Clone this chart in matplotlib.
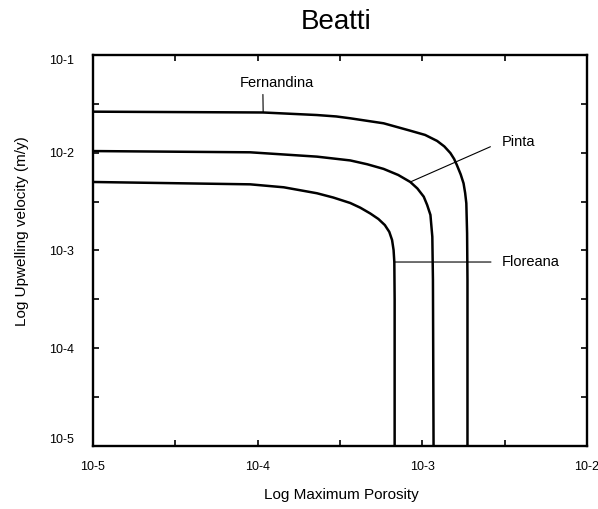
import matplotlib
matplotlib.use('Agg')
import matplotlib.pyplot as plt

plt.rcParams['font.family'] = 'Liberation Sans'

# porosity / upwelling velocity curves for each island
fern_x = [1.0e-5, 1.08e-4, 2.29e-4, 3.00e-4, 3.65e-4, 5.82e-4, 8.45e-4, 1.04e-3,
          1.23e-3, 1.36e-3, 1.48e-3, 1.56e-3, 1.62e-3, 1.71e-3, 1.78e-3, 1.82e-3,
          1.85e-3, 1.87e-3, 1.88e-3, 1.88e-3]
fern_y = [2.63e-2, 2.58e-2, 2.43e-2, 2.35e-2, 2.25e-2, 2.00e-2, 1.68e-2, 1.52e-2,
          1.32e-2, 1.16e-2, 9.93e-3, 8.63e-3, 7.50e-3, 6.00e-3, 4.86e-3, 3.87e-3,
          3.04e-3, 1.50e-3, 4.99e-4, 1.0e-5]

pinta_x = [1.0e-5, 9.0e-5, 2.29e-4, 3.65e-4, 4.63e-4, 5.82e-4, 7.14e-4, 8.45e-4,
           9.33e-4, 1.02e-3, 1.07e-3, 1.12e-3, 1.15e-3, 1.16e-3, 1.17e-3]
pinta_y = [1.04e-2, 1.01e-2, 9.12e-3, 8.34e-3, 7.62e-3, 6.83e-3, 5.92e-3, 5.02e-3,
           4.31e-3, 3.55e-3, 2.92e-3, 2.31e-3, 1.38e-3, 4.99e-4, 1.0e-5]

flor_x = [1.0e-5, 9.0e-5, 1.44e-4, 2.29e-4, 2.88e-4, 3.65e-4, 4.20e-4, 4.83e-4,
          5.41e-4, 5.92e-4, 6.30e-4, 6.55e-4, 6.69e-4, 6.76e-4, 6.79e-4, 6.79e-4]
flor_y = [5.02e-3, 4.75e-3, 4.43e-3, 3.85e-3, 3.48e-3, 3.06e-3, 2.74e-3, 2.39e-3,
          2.10e-3, 1.82e-3, 1.55e-3, 1.28e-3, 1.01e-3, 7.62e-4, 3.12e-4, 1.0e-5]

x_ticks = [1e-5, 1e-4, 1e-3, 1e-2]
x_labels = ['10-5', '10-4', '10-3', '10-2']
x_minor = [10 ** -4.5, 10 ** -3.5, 10 ** -2.5]
y_ticks = [1e-5, 1e-4, 1e-3, 1e-2, 1e-1]
y_labels = ['10-5', '10-4', '10-3', '10-2', '10-1']
y_minor = [10 ** -4.5, 10 ** -3.5, 10 ** -2.5, 10 ** -1.5]

fig = plt.figure(figsize=(5.98, 5.09), dpi=100)
ax = fig.add_axes([0.1555, 0.1238, 0.8261, 0.7682])

for xs, ys in [(fern_x, fern_y), (pinta_x, pinta_y), (flor_x, flor_y)]:
    ax.plot(xs, ys, color='black', lw=1.8, solid_joinstyle='round')

ax.set_xscale('log')
ax.set_yscale('log')
ax.set_xlim(1e-5, 1e-2)
ax.set_ylim(1e-5, 1e-1)

ax.set_xticks(x_ticks, x_labels)
ax.set_xticks(x_minor, minor=True)
ax.set_yticks(y_ticks, y_labels)
ax.set_yticks(y_minor, minor=True)
ax.xaxis.set_minor_formatter(plt.NullFormatter())
ax.yaxis.set_minor_formatter(plt.NullFormatter())
ax.tick_params(which='both', direction='in', top=True, right=True,
               length=4, width=1.2, labelsize=9)
ax.tick_params(axis='x', pad=10.5)
ax.tick_params(axis='y', pad=13.5)
ylabs = ax.get_yticklabels()
ylabs[0].set_va('bottom')
ylabs[-1].set_va('top')

for sp in ax.spines.values():
    sp.set_linewidth(1.7)

ax.set_xlabel('Log Maximum Porosity', fontsize=11, va='center')
ax.xaxis.set_label_coords(0.502, -0.125)
ax.set_ylabel('Log Upwelling velocity (m/y)', fontsize=11, va='center')
ax.yaxis.set_label_coords(-0.144, 0.55)

fig.text(336 / 598, 1 - 22 / 509, 'Beatti', ha='center', va='center', fontsize=20)

# island labels with leader lines
lead = dict(arrowstyle='-', color='black', lw=0.8)
ax.annotate('Fernandina', xy=(fern_x[1], fern_y[1]), xytext=(1.31e-4, 5.13e-2),
            ha='center', va='center', fontsize=10.5,
            arrowprops=dict(lead, relpos=(0.31, 0.0), shrinkA=1, shrinkB=0))
ax.annotate('Pinta', xy=(pinta_x[7], pinta_y[7]), xytext=(3.05e-3, 1.30e-2),
            ha='left', va='center', fontsize=10.5,
            arrowprops=dict(lead, relpos=(0.0, 0.5), shrinkA=7, shrinkB=0))
ax.annotate('Floreana', xy=(flor_x[13], flor_y[13]), xytext=(3.05e-3, flor_y[13]),
            ha='left', va='center', fontsize=10.5,
            arrowprops=dict(lead, relpos=(0.0, 0.5), shrinkA=6, shrinkB=0))

fig.savefig('out.png', dpi=100)
